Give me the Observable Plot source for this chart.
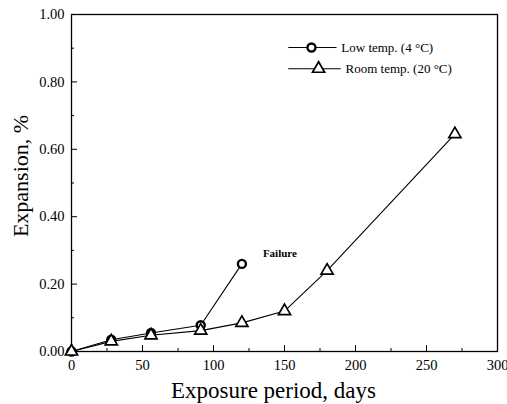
<!DOCTYPE html>
<html>
<head>
<meta charset="utf-8">
<script src="https://cdn.jsdelivr.net/npm/d3@7"></script>
<script src="https://cdn.jsdelivr.net/npm/@observablehq/plot@0.6"></script>
<style>
  html, body { margin: 0; padding: 0; background: #fff; }
  #chart svg { display: block; }
  #chart svg text { font-family: "Liberation Serif", "Times New Roman", serif !important; }
</style>
</head>
<body>
<div id="chart"></div>
<script>
// Data
const lowDays = [0, 28, 56, 91, 120];
const lowExp  = [0, 0.035, 0.055, 0.078, 0.26];
const roomDays = [0, 28, 56, 91, 120, 150, 180, 270];
const roomExp  = [0, 0.03, 0.048, 0.062, 0.085, 0.12, 0.24, 0.645];

const xTicks = [0, 50, 100, 150, 200, 250, 300];
const xMinor = [25, 75, 125, 175, 225, 275];
const yTicks = [0, 0.2, 0.4, 0.6, 0.8, 1.0];
const yMinor = [0.1, 0.3, 0.5, 0.7, 0.9];

const seriesNames = ["Low temp. (4 \u00B0C)", "Room temp. (20 \u00B0C)"];
const failureLabel = "Failure";

const low = lowDays.map((d, i) => ({x: d, y: lowExp[i]}));
const room = roomDays.map((d, i) => ({x: d, y: roomExp[i]}));

const W = 507, H = 404;
const mL = 71, mR = 10, mT = 14, mB = 53;
const fW = W - mL - mR, fH = H - mT - mB;
const serif = "Liberation Serif";

// legend layout (in data units of the frame)
const legX1 = 153;
const legRows = [
  {y: 0.902, x2: 187, mx: 169, text: seriesNames[0], tx: 190},
  {y: 0.839, x2: 190, mx: 174, text: seriesNames[1], tx: 193}
];

const chart = Plot.plot({
  width: W, height: H,
  marginLeft: mL, marginRight: mR, marginTop: mT, marginBottom: mB,
  style: {fontFamily: serif, fontSize: "14px", color: "black", background: "white"},
  x: {domain: [0, 300]},
  y: {domain: [0, 1]},
  marks: [
    Plot.axisX({ticks: xTicks, tickSize: 0, tickPadding: 8, tickFormat: d => String(d), fontSize: 14.5, label: null}),
    Plot.axisY({ticks: yTicks, tickSize: 0, tickPadding: 7, tickFormat: d3.format(".2f"), fontSize: 14.5, label: null}),
    Plot.ruleX(xTicks, {x: d => d, insetTop: fH - 6, stroke: "black", strokeWidth: 1}),
    Plot.ruleX(xMinor, {x: d => d, insetTop: fH - 3, stroke: "black", strokeWidth: 1}),
    Plot.ruleY(yTicks, {y: d => d, insetRight: fW - 6, stroke: "black", strokeWidth: 1}),
    Plot.ruleY(yMinor, {y: d => d, insetRight: fW - 3, stroke: "black", strokeWidth: 1}),
    Plot.frame({stroke: "black", strokeWidth: 1.3}),
    // series
    Plot.line(room, {x: "x", y: "y", stroke: "black", strokeWidth: 1.1}),
    Plot.line(low, {x: "x", y: "y", stroke: "black", strokeWidth: 1.1}),
    Plot.dot(low, {x: "x", y: "y", r: 4, symbol: "circle", fill: "white", stroke: "black", strokeWidth: 2.4}),
    Plot.dot(room, {x: "x", y: "y", r: 4.5, symbol: "triangle", fill: "white", stroke: "black", strokeWidth: 1.7}),
    Plot.text([low[low.length - 1]], {x: "x", y: "y", text: () => failureLabel, dx: 21, dy: -10, textAnchor: "start", fontWeight: "bold", fontSize: 11}),
    // legend
    Plot.ruleY([legRows[0]], {y: "y", x1: legX1, x2: "x2", stroke: "black", strokeWidth: 1}),
    Plot.ruleY([legRows[1]], {y: "y", x1: legX1, x2: "x2", stroke: "black", strokeWidth: 1}),
    Plot.dot([legRows[0]], {x: "mx", y: "y", r: 4, symbol: "circle", fill: "white", stroke: "black", strokeWidth: 2.4}),
    Plot.dot([legRows[1]], {x: "mx", y: "y", r: 4.5, symbol: "triangle", fill: "white", stroke: "black", strokeWidth: 1.7}),
    Plot.text(legRows, {x: "tx", y: "y", text: "text", textAnchor: "start", fontSize: 13}),
    // axis titles
    Plot.text(["Exposure period, days"], {frameAnchor: "bottom", text: d => d, dx: -11, dy: 46, fontSize: 23}),
    Plot.text(["Expansion, %"], {frameAnchor: "left", text: d => d, rotate: -90, textAnchor: "middle", dx: -51, dy: -7, fontSize: 22})
  ]
});
document.getElementById("chart").appendChild(chart);
</script>
</body>
</html>
